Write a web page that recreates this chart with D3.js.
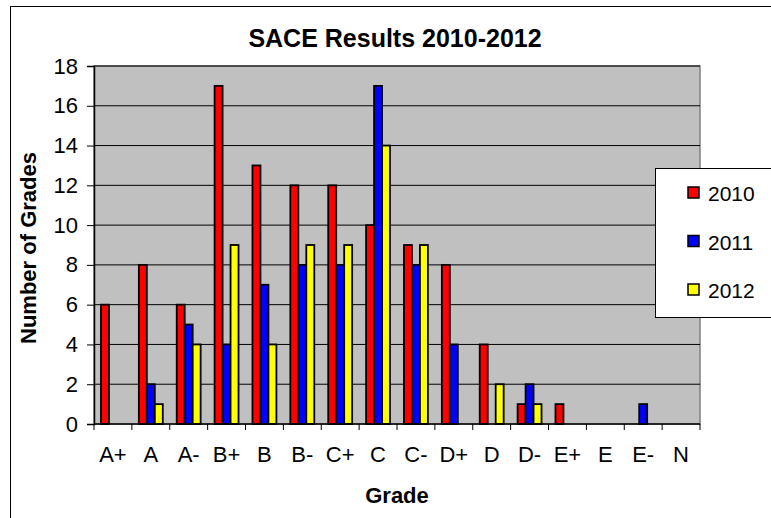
<!DOCTYPE html>
<html>
<head>
<meta charset="utf-8">
<script src="https://cdn.jsdelivr.net/npm/d3@7"></script>
<style>
  body { margin: 0; background: #fff; }
  text { font-family: Arial, 'Liberation Sans', sans-serif; fill: #000; }
</style>
</head>
<body>
<div class="svg-target"></div>
<script>
const grades = ['A+', 'A', 'A-', 'B+', 'B', 'B-', 'C+', 'C', 'C-', 'D+', 'D', 'D-', 'E+', 'E', 'E-', 'N'];
const years = ['2010', '2011', '2012'];
const results2010 = [6, 8, 6, 17, 13, 12, 12, 10, 9, 8, 4, 1, 1, 0, 0, 0];
const results2011 = [0, 2, 5, 4, 7, 8, 8, 17, 8, 4, 0, 2, 0, 0, 1, 0];
const results2012 = [0, 1, 4, 9, 4, 9, 9, 14, 9, 0, 2, 1, 0, 0, 0, 0];
const yTicks = [0, 2, 4, 6, 8, 10, 12, 14, 16, 18];
const colours = ['#ff0000', '#0000ff', '#ffff00'];

const w = 771;
const h = 518;
const plot = { left: 94, right: 700, top: 66, bottom: 424 };

const series = [results2010, results2011, results2012];
const rows = grades.map((g, i) => ({ grade: g, values: years.map((y, j) => ({ year: y, value: series[j][i] })) }));

const svg = d3.select('.svg-target')
    .append('svg')
    .attr('width', w)
    .attr('height', h);

// chart frame
svg.append('rect')
    .attr('x', 10.5).attr('y', 6.5)
    .attr('width', 800).attr('height', 600)
    .attr('fill', '#fff')
    .attr('stroke', '#000')
    .attr('stroke-width', 1);

// scales
const x0 = d3.scaleBand()
    .domain(grades)
    .range([plot.left, plot.right]);

const x1 = d3.scaleBand()
    .domain(years)
    .range([0, x0.bandwidth()])
    .paddingOuter(0.875);

const yScale = d3.scaleLinear()
    .domain([0, 18])
    .range([plot.bottom, plot.top]);

// plot background
svg.append('rect')
    .attr('x', plot.left).attr('y', plot.top)
    .attr('width', plot.right - plot.left)
    .attr('height', plot.bottom - plot.top)
    .attr('fill', '#c0c0c0')
    .attr('stroke', '#808080')
    .attr('stroke-width', 1.5);

// gridlines
svg.append('g')
    .selectAll('line')
    .data(yTicks.filter(d => d > 0))
    .enter()
    .append('line')
        .attr('x1', plot.left).attr('x2', plot.right)
        .attr('y1', d => yScale(d)).attr('y2', d => yScale(d))
        .attr('stroke', '#000')
        .attr('stroke-width', 1);

// bars
svg.append('g')
    .selectAll('g')
    .data(rows)
    .enter()
    .append('g')
        .attr('transform', d => `translate(${x0(d.grade)}, 0)`)
    .selectAll('rect')
    .data(d => d.values.filter(v => v.value > 0))
    .enter()
    .append('rect')
        .attr('x', d => x1(d.year))
        .attr('y', d => yScale(d.value))
        .attr('width', x1.bandwidth())
        .attr('height', d => yScale(0) - yScale(d.value))
        .attr('fill', d => colours[years.indexOf(d.year)])
        .attr('stroke', '#000')
        .attr('stroke-width', 1.8);

// y axis
const yAxis = d3.axisLeft(yScale)
    .tickValues(yTicks)
    .tickSize(7)
    .tickPadding(9);

const yG = svg.append('g')
    .attr('transform', `translate(${plot.left}, 0)`)
    .call(yAxis);
yG.select('.domain').attr('stroke', '#000').attr('stroke-width', 1.5);
yG.selectAll('.tick line').attr('stroke', '#000');
yG.selectAll('text').attr('font-size', 22).attr('font-family', 'Arial, Liberation Sans, sans-serif');

// x axis: ticks on category boundaries
const xG = svg.append('g')
    .attr('transform', `translate(0, ${plot.bottom})`);

xG.append('line')
    .attr('x1', plot.left).attr('x2', plot.right)
    .attr('stroke', '#000')
    .attr('stroke-width', 1.5);

xG.selectAll('.xtick')
    .data(grades.concat(['end']))
    .enter()
    .append('line')
        .attr('class', 'xtick')
        .attr('x1', d => d === 'end' ? plot.right : x0(d))
        .attr('x2', d => d === 'end' ? plot.right : x0(d))
        .attr('y1', 0).attr('y2', 6)
        .attr('stroke', '#000');

xG.selectAll('.xlabel')
    .data(grades)
    .enter()
    .append('text')
        .attr('class', 'xlabel')
        .attr('x', d => x0(d) + x0.bandwidth() / 2)
        .attr('y', 38)
        .attr('text-anchor', 'middle')
        .attr('font-size', 22)
        .text(d => d);

// titles
svg.append('text')
    .attr('x', 395).attr('y', 47)
    .attr('text-anchor', 'middle')
    .attr('font-size', 25)
    .attr('font-weight', 'bold')
    .text('SACE Results 2010-2012');

svg.append('text')
    .attr('x', (plot.left + plot.right) / 2).attr('y', 503)
    .attr('text-anchor', 'middle')
    .attr('font-size', 22)
    .attr('font-weight', 'bold')
    .text('Grade');

svg.append('text')
    .attr('transform', `translate(36, ${(plot.top + plot.bottom) / 2 + 3}) rotate(-90)`)
    .attr('text-anchor', 'middle')
    .attr('font-size', 22)
    .attr('font-weight', 'bold')
    .text('Number of Grades');

// legend
const legend = svg.append('g');
legend.append('rect')
    .attr('x', 655.5).attr('y', 168.5)
    .attr('width', 140).attr('height', 149)
    .attr('fill', '#fff')
    .attr('stroke', '#000')
    .attr('stroke-width', 1);

const item = legend.selectAll('.item')
    .data(years)
    .enter()
    .append('g')
        .attr('class', 'item')
        .attr('transform', (d, i) => `translate(688, ${193 + i * 48.5})`);

item.append('rect')
    .attr('x', 0).attr('y', -6)
    .attr('width', 11).attr('height', 11)
    .attr('fill', (d, i) => colours[i])
    .attr('stroke', '#000')
    .attr('stroke-width', 1.5);

item.append('text')
    .attr('x', 20).attr('y', 8)
    .attr('font-size', 21)
    .text(d => d);
</script>
</body>
</html>
